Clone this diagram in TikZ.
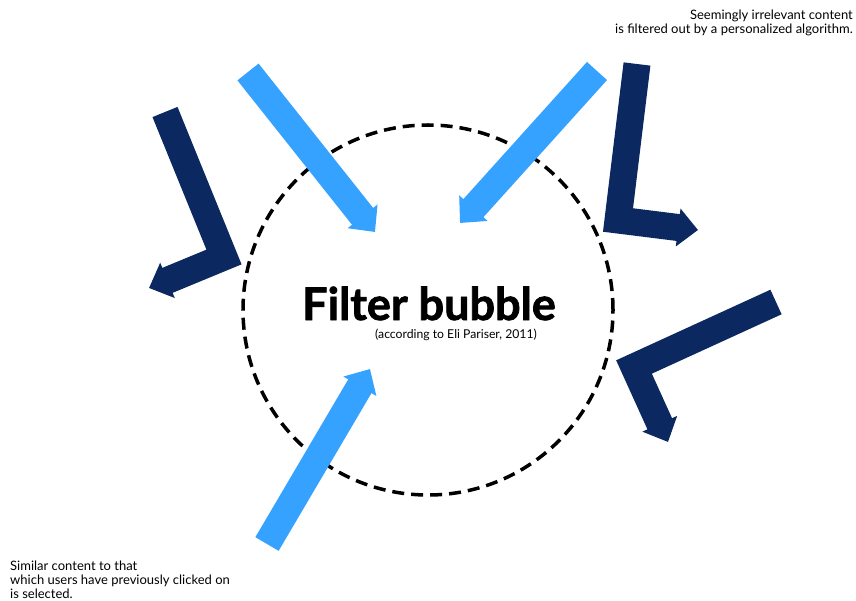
\documentclass[tikz,border=0pt]{standalone}
\usepackage{fontspec}
\setmainfont{Lato}
\newfontfamily\titlefont{Lato}[BoldFeatures={FakeBold=1.6}]
\usetikzlibrary{arrows.meta}
\definecolor{bubbleblue}{RGB}{54,162,255}
\definecolor{bubblenavy}{RGB}{11,40,96}

\begin{document}
\begin{tikzpicture}[x=1pt, y=-1pt, every node/.style={font=\fontsize{13}{14}\selectfont, inner sep=0pt},
	inarrow/.style={draw=bubbleblue, line width=27pt, -{Triangle[length=20pt, width=37pt]}},
	outarrow/.style={draw=bubblenavy, line width=27pt, -{Triangle[length=20pt, width=37pt]}}]
	\useasboundingbox (0,0) rectangle (856,601);
	% the bubble
	\node[circle, draw, dash pattern=on 12pt off 7pt, line width=3.5pt, minimum size=370pt] (bubble) at (428,310) {};
	\node[anchor=base, font=\fontsize{45}{48}\titlefont\bfseries] (title) at (429,320) {Filter bubble};
	\node[anchor=base, font=\fontsize{12.2}{14}\selectfont] (source) at (456,338) {(according to Eli Pariser, 2011)};
	% texts
	\node[anchor=north east, align=right] (filtered) at (853,10) {Seemingly irrelevant content\\is filtered out by a personalized algorithm.};
	\node[anchor=south west, align=left] (selected) at (10,599) {Similar content to that\\which users have previously clicked on\\is selected.};
	% ends of the arrows
	\coordinate (inA) at (248,72);  \coordinate (inA') at (375,232);
	\coordinate (inB) at (597,71);  \coordinate (inB') at (460,223);
	\coordinate (inC) at (267,544); \coordinate (inC') at (370,369);
	\coordinate (outA) at (165,112); \coordinate (outA-bend) at (224,257); \coordinate (outA') at (149,288);
	\coordinate (outB) at (637,64);  \coordinate (outB-bend) at (618,220); \coordinate (outB') at (698,230);
	\coordinate (outC) at (776,302); \coordinate (outC-bend) at (634,367); \coordinate (outC') at (668,442);
	% selected content goes in
	\draw[inarrow] (inA) -- (inA');
	\draw[inarrow] (inB) -- (inB');
	\draw[inarrow] (inC) -- (inC');
	% filtered content bounces off
	\draw[outarrow] (outA) -- (outA-bend) -- (outA');
	\draw[outarrow] (outB) -- (outB-bend) -- (outB');
	\draw[outarrow] (outC) -- (outC-bend) -- (outC');
\end{tikzpicture}
\end{document}
